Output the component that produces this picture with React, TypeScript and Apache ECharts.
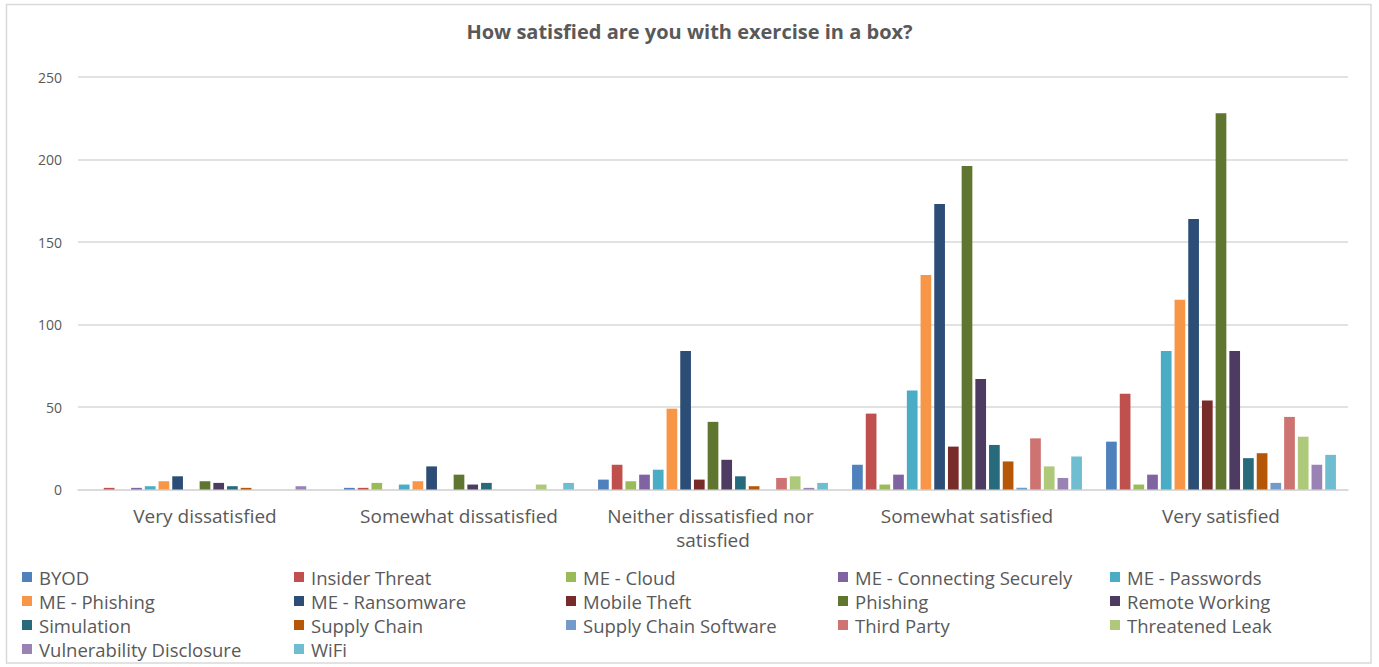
import React, { useEffect, useRef } from "react";
import * as echarts from "echarts";

const categories = [
  "Very dissatisfied",
  "Somewhat dissatisfied",
  "Neither dissatisfied nor satisfied",
  "Somewhat satisfied",
  "Very satisfied",
];

const seriesNames = [
  "BYOD",
  "Insider Threat",
  "ME - Cloud",
  "ME - Connecting Securely",
  "ME - Passwords",
  "ME - Phishing",
  "ME - Ransomware",
  "Mobile Theft",
  "Phishing",
  "Remote Working",
  "Simulation",
  "Supply Chain",
  "Supply Chain Software",
  "Third Party",
  "Threatened Leak",
  "Vulnerability Disclosure",
  "WiFi",
];

const byod = [0, 1, 6, 15, 29];
const insiderThreat = [1, 1, 15, 46, 58];
const meCloud = [0, 4, 5, 3, 3];
const meConnecting = [1, 0, 9, 9, 9];
const mePasswords = [2, 3, 12, 60, 84];
const mePhishing = [5, 5, 49, 130, 115];
const meRansomware = [8, 14, 84, 173, 164];
const mobileTheft = [0, 0, 6, 26, 54];
const phishing = [5, 9, 41, 196, 228];
const remoteWorking = [4, 3, 18, 67, 84];
const simulation = [2, 4, 8, 27, 19];
const supplyChain = [1, 0, 2, 17, 22];
const supplyChainSoftware = [0, 0, 0, 1, 4];
const thirdParty = [0, 0, 7, 31, 44];
const threatenedLeak = [0, 3, 8, 14, 32];
const vulnerability = [2, 0, 1, 7, 15];
const wifi = [0, 4, 4, 20, 21];

const seriesValues = [
  byod,
  insiderThreat,
  meCloud,
  meConnecting,
  mePasswords,
  mePhishing,
  meRansomware,
  mobileTheft,
  phishing,
  remoteWorking,
  simulation,
  supplyChain,
  supplyChainSoftware,
  thirdParty,
  threatenedLeak,
  vulnerability,
  wifi,
];

const colors = [
  "#4F81BD",
  "#C0504D",
  "#9BBB59",
  "#8064A2",
  "#4BACC6",
  "#F79646",
  "#2C4D75",
  "#772C2A",
  "#5F7530",
  "#4D3B62",
  "#276A7C",
  "#B65708",
  "#729ACA",
  "#CD7371",
  "#AFC97A",
  "#9983B5",
  "#6FBDD1",
];

const yTicks = [0, 50, 100, 150, 200, 250];

const FONT = "'Open Sans', 'Noto Sans', sans-serif";
const TEXT = "#595959";

export default function App() {
  const ref = useRef<HTMLDivElement>(null);

  useEffect(() => {
    if (!ref.current) return;
    const chart = echarts.init(ref.current, undefined, { renderer: "svg" });

    const legends = [0, 1, 2, 3, 4].map((col) => ({
      orient: "vertical" as const,
      left: 22 + col * 272,
      top: 565,
      padding: 0,
      itemWidth: 10,
      itemHeight: 10,
      itemGap: 0,
      icon: "rect",
      data: seriesNames.filter((_, i) => i % 5 === col),
      textStyle: {
        fontFamily: FONT,
        fontSize: 18.5,
        color: TEXT,
        lineHeight: 24,
        padding: [0, 0, 0, 2],
      },
    }));

    chart.setOption({
      animation: false,
      color: colors,
      textStyle: { fontFamily: FONT },
      title: {
        text: "How satisfied are you with exercise in a box?",
        left: "center",
        top: 16,
        textStyle: {
          fontFamily: FONT,
          fontSize: 20,
          fontWeight: "bold",
          color: TEXT,
        },
      },
      graphic: [
        {
          type: "rect",
          shape: { x: 6.5, y: 4.5, width: 1364.5, height: 658.5 },
          style: { fill: "none", stroke: "#d9d9d9", lineWidth: 1.5 },
          silent: true,
        },
      ],
      legend: legends,
      grid: { left: 78, right: 31, top: 77, bottom: 177.5, containLabel: false },
      xAxis: {
        type: "category",
        data: categories,
        axisLine: { show: true, lineStyle: { color: "#d9d9d9", width: 1.5 } },
        axisTick: { show: false },
        axisLabel: {
          fontFamily: FONT,
          fontSize: 19,
          color: TEXT,
          margin: 14,
          lineHeight: 24,
          interval: 0,
          width: 240,
          overflow: "break",
        },
      },
      yAxis: {
        type: "value",
        min: yTicks[0],
        max: yTicks[yTicks.length - 1],
        interval: 50,
        axisLine: { show: false },
        axisTick: { show: false },
        axisLabel: { fontFamily: FONT, fontSize: 14, color: TEXT, margin: 16 },
        splitLine: { lineStyle: { color: "#d9d9d9", width: 1.5 } },
      },
      series: seriesNames.map((name, i) => ({
        name,
        type: "bar",
        data: seriesValues[i],
        barGap: "28%",
        barCategoryGap: "9.5%",
        itemStyle: { color: colors[i] },
      })),
    });

    return () => chart.dispose();
  }, []);

  return (
    <div
      ref={ref}
      style={{ position: "fixed", left: 0, top: 0, width: 1379, height: 667, background: "#fff" }}
    />
  );
}
